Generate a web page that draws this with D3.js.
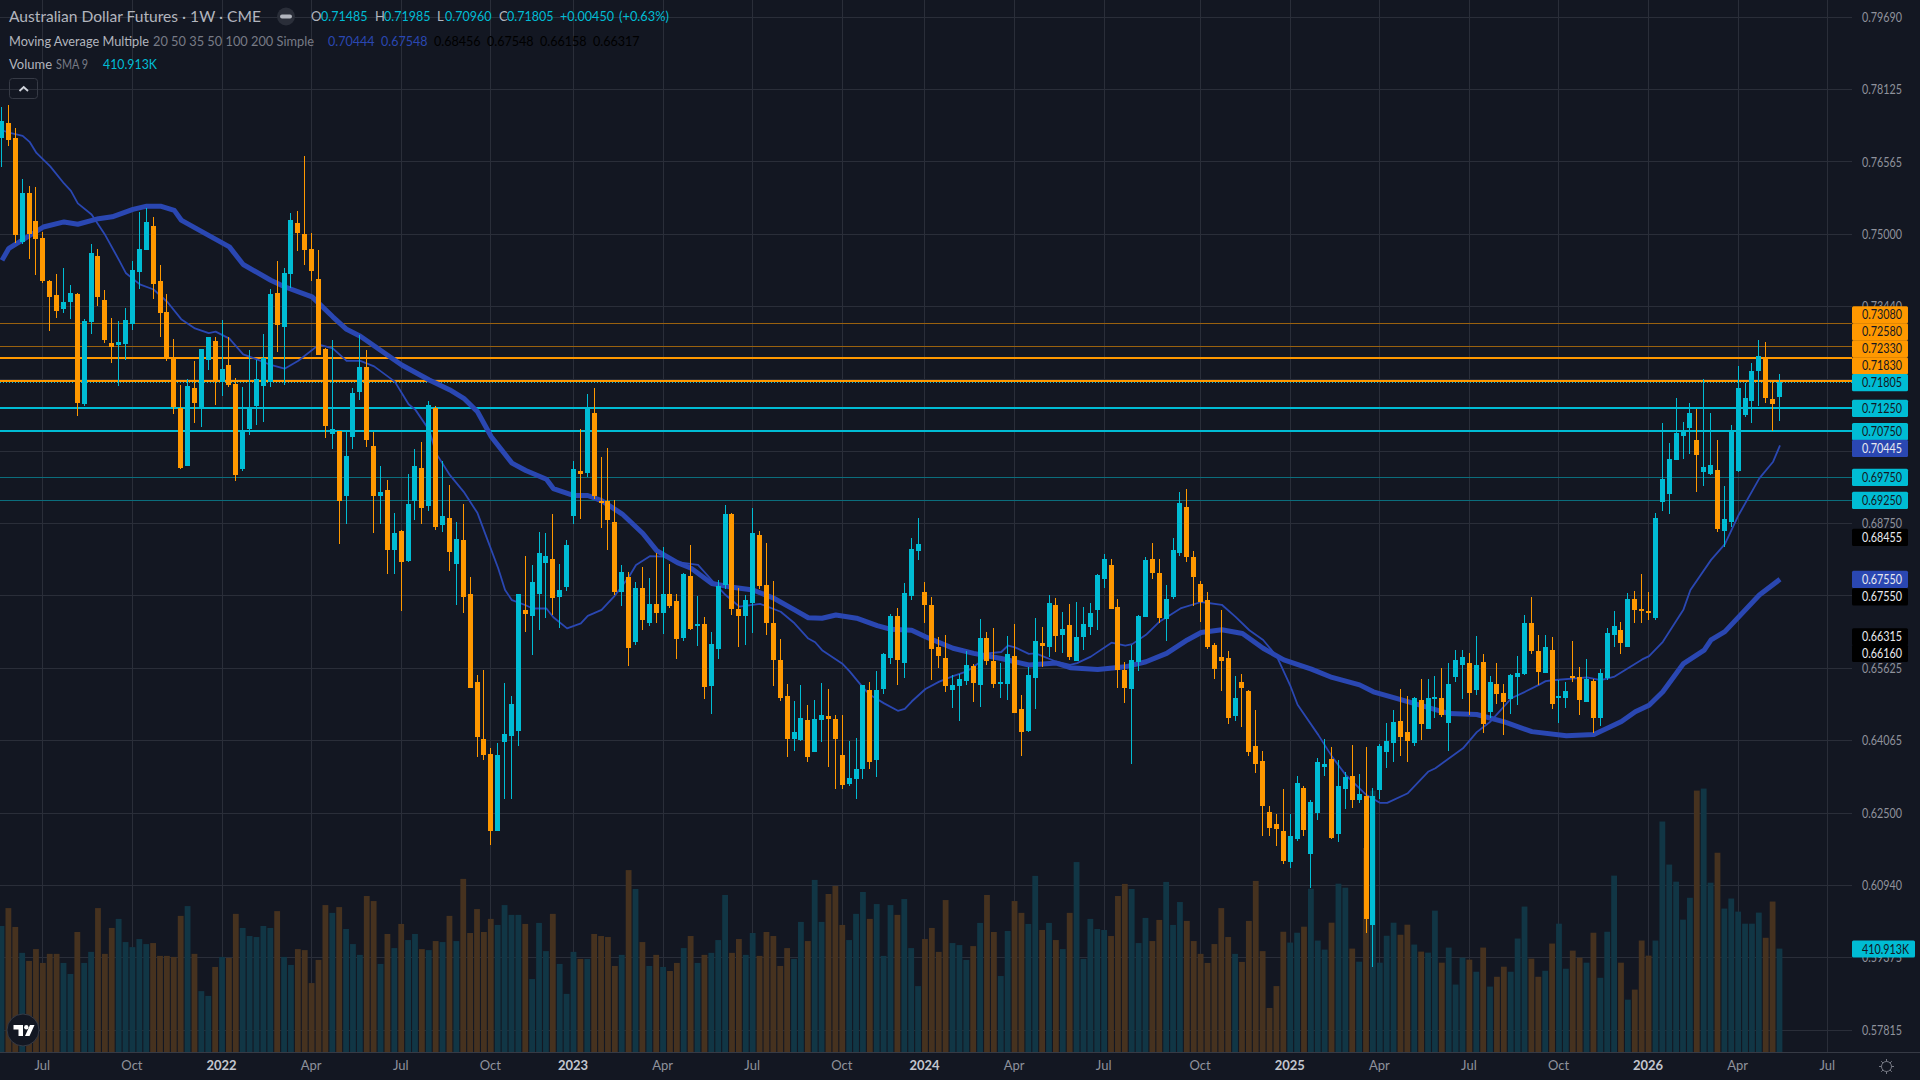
<!DOCTYPE html>
<html>
<head>
<meta charset="utf-8">
<title>Australian Dollar Futures</title>
<script src="https://cdn.jsdelivr.net/npm/d3@7"></script>
<style>
  html, body { margin: 0; padding: 0; background: #131722; overflow: hidden; }
  svg { display: block; }
  text { font-family: "Lato", "Noto Sans", sans-serif; }
</style>
</head>
<body>
<svg id="chart" width="1920" height="1080"></svg>
<script>
// Weekly OHLC in pips (1 pip = 0.0001), oldest week first.
const opens = [
  7709,7740,7708,7483,7589,7529,7492,7399,7369,7339,
  7354,7371,7133,7310,7453,7358,7265,7261,7263,7307,
  7418,7466,7518,7399,7332,7233,7125,6999,7168,7127,
  7228,7269,7181,7218,7177,6993,7079,7129,7172,7181,
  7373,7300,7414,7524,7501,7468,7403,7252,7069,7075,
  6935,7062,7159,7213,7043,6935,6948,6818,6859,6795,
  6924,6995,6913,7125,6872,6887,6788,6840,6723,6533,
  6410,6378,6211,6404,6417,6427,6689,6676,6723,6790,
  6799,6717,6738,6892,6989,6985,7114,6924,6924,6879,
  6728,6760,6620,6736,6661,6702,6682,6723,6708,6628,
  6762,6654,6658,6525,6604,6743,6896,6691,6676,6704,
  6851,6743,6661,6581,6503,6410,6408,6451,6382,6451,
  6460,6453,6375,6313,6324,6345,6516,6365,6518,6585,
  6676,6574,6719,6816,6728,6700,6609,6585,6516,6525,
  6535,6568,6527,6628,6579,6529,6529,6589,6475,6427,
  6542,6617,6609,6700,6635,6656,6579,6630,6652,6689,
  6756,6786,6695,6559,6518,6576,6674,6799,6769,6669,
  6717,6812,6911,6803,6745,6710,6613,6587,6585,6460,
  6533,6514,6395,6363,6252,6226,6211,6144,6194,6304,
  6162,6250,6350,6367,6205,6302,6330,6278,6287,6008,
  6300,6382,6401,6449,6425,6401,6494,6432,6496,6499,
  6445,6544,6570,6574,6516,6576,6468,6529,6509,6496,
  6544,6550,6661,6600,6553,6602,6499,6499,6546,6544,
  6490,6535,6455,6542,6635,6646,6609,6712,6691,6687,
  6671,6922,6939,7013,7065,7082,7056,6987,6982,6991,
  6859,6879,6989,7110,7140,7205,7233,7144,7148.5
];
const closes = [
  7745,7704,7499,7589,7501,7490,7399,7364,7334,7354,
  7373,7135,7313,7460,7364,7272,7256,7267,7315,7423,
  7468,7526,7393,7330,7233,7127,6995,7172,7135,7252,
  7278,7183,7209,7174,6980,7077,7125,7187,7233,7371,
  7304,7416,7531,7503,7466,7421,7239,7086,7079,6924,
  7021,7157,7213,7056,6935,6943,6818,6855,6792,6918,
  7000,6909,7131,6868,6892,6814,6842,6717,6520,6414,
  6376,6211,6376,6421,6486,6723,6680,6749,6812,6805,
  6715,6732,6829,6993,6982,7125,6935,6920,6883,6728,
  6771,6607,6736,6667,6702,6682,6723,6697,6626,6766,
  6648,6658,6522,6615,6740,6896,6691,6676,6710,6855,
  6741,6661,6581,6499,6410,6425,6455,6371,6453,6462,
  6453,6410,6311,6326,6345,6527,6360,6516,6594,6676,
  6581,6725,6820,6831,6700,6604,6589,6525,6527,6540,
  6570,6531,6628,6579,6529,6533,6594,6466,6425,6548,
  6622,6611,6704,6633,6648,6587,6630,6658,6682,6764,
  6799,6691,6559,6520,6581,6676,6797,6769,6671,6712,
  6818,6920,6803,6760,6706,6609,6561,6579,6455,6499,
  6520,6382,6356,6265,6218,6216,6147,6201,6315,6213,
  6274,6360,6356,6196,6309,6328,6278,6291,6021,6287,
  6395,6406,6447,6414,6406,6499,6442,6499,6501,6462,
  6529,6581,6587,6509,6570,6442,6533,6507,6490,6548,
  6553,6661,6600,6555,6609,6486,6503,6514,6544,6494,
  6540,6455,6553,6639,6654,6617,6712,6689,6687,6682,
  6887,6972,7015,7071,7075,7114,7024,6998,7002,6864,
  6885,7075,7168,7147,7205,7237,7147,7134,7180.5
];
const highs = [
  7776,7779,7729,7619,7604,7602,7505,7401,7414,7427,
  7390,7373,7317,7479,7468,7380,7319,7313,7341,7442,
  7548,7557,7537,7434,7371,7274,7174,7187,7226,7252,
  7278,7278,7315,7278,7190,7170,7250,7228,7285,7382,
  7442,7427,7546,7550,7669,7503,7466,7254,7272,7075,
  7073,7168,7282,7250,7073,6999,6969,6898,6862,6982,
  7036,7052,7140,7129,7011,6959,6879,6918,6760,6548,
  6559,6391,6401,6531,6503,6723,6805,6786,6857,6855,
  6896,6788,6840,7011,7080,7155,7168,7019,7039,6926,
  6786,6771,6749,6782,6758,6812,6825,6788,6723,6769,
  6829,6719,6674,6641,6753,6916,6898,6736,6721,6909,
  6859,6833,6751,6626,6529,6492,6527,6483,6494,6531,
  6518,6462,6462,6406,6412,6527,6533,6557,6596,6680,
  6693,6747,6844,6887,6749,6717,6630,6635,6548,6550,
  6600,6572,6669,6641,6650,6574,6633,6658,6505,6566,
  6671,6652,6721,6715,6684,6702,6706,6695,6704,6766,
  6810,6799,6712,6576,6613,6678,6803,6833,6799,6743,
  6844,6944,6950,6816,6751,6728,6617,6689,6600,6546,
  6550,6516,6473,6384,6265,6248,6302,6248,6330,6309,
  6278,6369,6410,6393,6365,6339,6397,6334,6393,6304,
  6399,6445,6473,6518,6503,6501,6540,6540,6546,6563,
  6574,6602,6602,6596,6633,6594,6546,6574,6529,6550,
  6589,6678,6717,6635,6635,6630,6538,6533,6622,6566,
  6583,6540,6561,6650,6687,6663,6725,6730,6766,6728,
  6898,7093,7049,7147,7095,7136,7123,7188,7114,7056,
  6957,7088,7216,7179,7222,7272,7268,7181,7198.5
];
const lows = [
  7646,7691,7482,7479,7447,7412,7395,7291,7319,7330,
  7317,7107,7129,7285,7345,7265,7222,7172,7228,7293,
  7382,7466,7360,7278,7226,7112,6993,6999,7092,7084,
  7207,7131,7151,7170,6967,6989,7066,7088,7094,7170,
  7246,7174,7384,7464,7434,7399,7239,7060,7036,6831,
  6874,7036,7142,7040,6855,6874,6766,6766,6686,6792,
  6883,6874,6903,6861,6857,6773,6699,6682,6520,6371,
  6365,6181,6211,6280,6280,6395,6641,6591,6645,6671,
  6678,6650,6730,6874,6885,6976,6928,6866,6818,6721,
  6697,6568,6613,6645,6654,6661,6637,6693,6583,6622,
  6645,6611,6496,6464,6583,6734,6678,6609,6613,6639,
  6734,6635,6525,6492,6371,6384,6406,6360,6382,6404,
  6350,6302,6302,6309,6280,6324,6345,6328,6507,6572,
  6527,6542,6710,6797,6661,6537,6563,6512,6477,6449,
  6527,6490,6479,6570,6520,6499,6494,6466,6373,6425,
  6475,6566,6587,6598,6596,6581,6579,6602,6635,6645,
  6736,6691,6520,6488,6356,6557,6674,6756,6661,6622,
  6712,6805,6792,6697,6663,6604,6540,6514,6442,6449,
  6436,6373,6337,6201,6201,6179,6140,6131,6190,6201,
  6088,6235,6330,6194,6188,6259,6261,6272,5991,5918,
  6280,6347,6360,6373,6360,6395,6408,6432,6455,6458,
  6384,6533,6496,6462,6505,6423,6455,6486,6419,6464,
  6483,6548,6594,6527,6553,6475,6445,6477,6533,6462,
  6490,6423,6438,6537,6609,6594,6609,6661,6661,6667,
  6667,6903,6896,7013,7015,7026,6944,6956,6980,6857,
  6825,6868,6987,7106,7093,7129,7136,7075,7096
];
// Weekly contract volume, in thousands.
const volumes = [
  501,572,497,394,362,409,354,390,390,354,
  310,477,354,398,572,390,493,529,437,417,
  449,429,433,382,382,378,541,580,390,242,
  223,338,378,374,549,493,461,457,501,493,
  560,378,346,409,405,274,366,584,553,576,
  489,429,386,620,600,350,469,413,509,445,
  469,409,405,441,437,541,441,688,473,568,
  477,529,505,584,545,545,509,290,513,401,
  549,350,231,398,370,370,469,461,457,342,
  386,723,648,437,342,386,338,322,354,413,
  461,354,386,394,445,624,394,449,386,473,
  382,477,461,342,413,370,517,441,684,517,
  628,660,505,445,549,636,529,588,382,584,
  545,608,413,262,449,493,398,604,433,425,
  366,421,513,624,477,302,481,600,553,509,
  700,485,513,445,409,553,755,370,529,489,
  485,461,620,668,648,433,533,441,525,676,
  505,596,521,441,390,354,429,572,457,390,
  358,521,680,401,175,262,478,435,474,498,
  649,443,407,514,669,653,411,359,811,1039,
  355,462,514,466,506,427,399,395,562,355,
  415,268,375,367,319,415,260,299,339,319,
  451,578,371,299,323,431,510,331,403,375,
  355,474,295,478,701,355,208,248,443,383,
  443,916,745,677,526,613,1039,1047,673,792,
  570,610,558,510,510,554,454,598,410.913
];

// Moving averages: week index and level in pips, sampled along each curve.
const fastMaWeeks = [
  0,1,3,4,5,7,9,10,11,13,15,17,18,20,22,24,26,28,30,31,33,35,37,39,41,43,46,48,50,52,54,57,59,60,
  62,63,65,67,69,70,72,73,74,76,77,79,80,82,84,85,87,89,91,92,94,96,98,101,103,105,107,110,113,115,
  117,118,119,122,123,125,126,128,130,131,132,134,136,138,140,142,143,145,146,147,149,150,153,155,156,
  158,161,163,164,166,168,169,171,174,177,179,181,183,185,187,188,191,193,195,198,200,201,204,207,208,
  212,214,216,219,221,223,224,225,230,232,234,238,239,241,244,245,248,250,252,255,257,258
];
const fastMaLevels = [
  7725,7720,7713,7700,7676,7647,7610,7594,7567,7543,7498,7444,7416,7392,7381,7354,7317,7297,7287,7290,7275,7241,7230,7218,7210,7227,7262,7254,7227,7227,7215,7182,7133,7121,
  7077,7027,6980,6944,6898,6858,6779,6732,6710,6699,6692,6692,6673,6649,6660,6676,6689,6721,6761,6786,6805,6804,6792,6786,6753,6721,6696,6702,6685,6660,
  6627,6619,6602,6572,6556,6520,6505,6487,6471,6475,6491,6518,6534,6546,6556,6577,6595,6598,6612,6608,6594,6595,6577,6570,6574,
  6588,6618,6612,6615,6635,6664,6673,6692,6706,6700,6674,6645,6624,6588,6523,6484,6419,6372,6332,6289,6272,6272,6293,6340,6347,
  6390,6425,6448,6498,6512,6527,6535,6537,6543,6537,6545,6582,6589,6620,6690,6732,6797,6831,6894,6973,7009,7044.4
];
const slowMaWeeks = [
  0,1,3,6,9,11,14,16,19,21,23,25,26,29,33,35,39,41,45,48,50,52,58,
  62,65,67,69,71,74,76,79,80,83,85,87,90,93,95,98,100,103,106,109,112,115,117,119,
  121,124,127,129,132,134,138,141,145,149,153,155,159,163,166,169,172,174,177,
  180,183,186,190,193,197,199,204,210,214,218,222,227,231,235,237,239,241,244,247,248,250,255,258
];
const slowMaLevels = [
  7444,7470,7488,7516,7527,7522,7534,7538,7554,7561,7561,7552,7531,7506,7473,7435,7401,7387,7365,7322,7295,7280,7218,
  7185.5,7164,7146,7117,7063,7006,6990,6971,6951,6936,6936,6925,6896,6854,6817,6791,6779,6746,6738,6732,6714,6689,6672,6671,
  6678,6671,6655,6647,6645,6631,6606,6595,6584,6570,6574,6564,6560,6566,6577,6595,6624,6640,6646,
  6638,6606,6581,6561,6543,6527,6512,6491,6465,6463,6447,6426,6417,6420,6448,6469,6483,6512,6573,6602,6624,6642,6721,6755
];

// Horizontal level alerts: thin and heavy orange/teal rules.
const levelPrices = [0.7308, 0.7258, 0.7233, 0.7183, 0.7125, 0.7075, 0.6975, 0.6925];
const levelKinds  = ["ot", "ot", "oh", "oh", "th", "th", "tt", "tt"];
const lastClose = 0.71805;

const priceTicks = [0.7969,0.78125,0.76565,0.75,0.7344,0.71875,0.70315,0.6875,0.6719,0.65625,0.64065,0.625,0.6094,0.59375,0.57815];
const dateTickWeeks = [6,19,32,45,58,71,83,96,109,122,134,147,160,174,187,200,213,226,239,252,265];
const dateTickNames = ["Jul","Oct","2022","Apr","Jul","Oct","2023","Apr","Jul","Oct","2024","Apr","Jul","Oct","2025","Apr","Jul","Oct","2026","Apr","Jul"];

// Price-scale tags, top to bottom: value and tag style.
const tagValues = ["0.73080","0.72580","0.72330","0.71830","0.71805","0.71250","0.70750","0.70445","0.69750","0.69250","0.68455","0.67550","0.67550","0.66315","0.66160"];
const tagKinds  = ["o","o","o","o","t","t","t","b","t","t","k","b","k","k","k"];
const tagCentres = [314.7,331.7,348.7,365.7,382.5,408.3,431.5,448.3,477.3,500.3,537.3,579.3,596.7,636.7,653.3];

const ORANGE = "#ff9800", TEAL = "#00bcd4", BLUE = "#2a47b2", BG = "#131722", GRID = "#2a2e39";
const W = 1920, PANE_R = 1852, PANE_B = 1052;

const svg = d3.select("#chart");
svg.append("rect").attr("width", W).attr("height", 1080).attr("fill", BG);

const xScale = d3.scaleLinear().domain([0, 258]).range([1.5, 1779.5]);
const yScale = d3.scaleLinear().domain([0.7308, 0.57815]).range([323.3, 1030]);
const volScale = d3.scaleLinear().domain([0, 1000]).range([PANE_B, PANE_B - 251.6]);
const col = i => Math.floor(xScale(i));
const price = pips => pips / 10000;

const bars = d3.range(opens.length).map(i => ({
  i, o: price(opens[i]), h: price(highs[i]), l: price(lows[i]), c: price(closes[i]), v: volumes[i],
  up: closes[i] >= opens[i]
}));

// Grid
const grid = svg.append("g").attr("shape-rendering", "crispEdges").attr("stroke", GRID);
grid.selectAll("line.h").data(priceTicks).join("line").attr("class", "h")
  .attr("x1", 0).attr("x2", PANE_R)
  .attr("y1", d => Math.floor(yScale(d)) + 0.5).attr("y2", d => Math.floor(yScale(d)) + 0.5);
grid.selectAll("line.v").data(dateTickWeeks).join("line").attr("class", "v")
  .attr("x1", d => Math.floor(xScale(d)) + 0.5).attr("x2", d => Math.floor(xScale(d)) + 0.5)
  .attr("y1", 0).attr("y2", PANE_B);
svg.append("line").attr("x1", 0).attr("x2", W).attr("y1", PANE_B + 0.5).attr("y2", PANE_B + 0.5)
  .attr("stroke", "#363a45").attr("shape-rendering", "crispEdges");

// Volume pane: bars stay slightly narrower than the weekly step so a dark gap separates them
svg.append("g")
  .selectAll("rect").data(bars).join("rect")
  .attr("x", d => xScale(d.i) - 2.9).attr("width", 5.8)
  .attr("y", d => volScale(d.v)).attr("height", d => PANE_B - volScale(d.v))
  .attr("fill", d => d.up ? "#113645" : "#46321f");

// Level rules
const levelStyle = {
  ot: { stroke: "#99610f", w: 1 }, oh: { stroke: ORANGE, w: 2 },
  th: { stroke: TEAL, w: 2 },      tt: { stroke: "#0b6d7c", w: 1 }
};
svg.append("g").attr("shape-rendering", "crispEdges")
  .selectAll("line").data(levelPrices).join("line")
  .attr("x1", 0).attr("x2", PANE_R)
  .attr("y1", d => yScale(d)).attr("y2", d => yScale(d))
  .attr("stroke", (d, i) => levelStyle[levelKinds[i]].stroke)
  .attr("stroke-width", (d, i) => levelStyle[levelKinds[i]].w);
svg.append("line").attr("x1", 0).attr("x2", PANE_R)
  .attr("y1", yScale(lastClose)).attr("y2", yScale(lastClose))
  .attr("stroke", TEAL).attr("stroke-dasharray", "1 2").attr("shape-rendering", "crispEdges");

// Moving averages
const maLine = d3.line().x(d => xScale(d[0]) + 0.5).y(d => yScale(price(d[1]))).curve(d3.curveLinear);
svg.append("path").attr("d", maLine(d3.zip(slowMaWeeks, slowMaLevels)))
  .attr("fill", "none").attr("stroke", BLUE).attr("stroke-width", 5).attr("stroke-linejoin", "round");
svg.append("path").attr("d", maLine(d3.zip(fastMaWeeks, fastMaLevels)))
  .attr("fill", "none").attr("stroke", BLUE).attr("stroke-width", 1.8).attr("stroke-linejoin", "round");

// Candles
const candles = svg.append("g").attr("shape-rendering", "crispEdges");
candles.selectAll("rect.wick").data(bars).join("rect").attr("class", "wick")
  .attr("x", d => col(d.i)).attr("width", 1)
  .attr("y", d => yScale(d.h)).attr("height", d => yScale(d.l) - yScale(d.h))
  .attr("fill", d => d.up ? TEAL : ORANGE);
candles.selectAll("rect.body").data(bars).join("rect").attr("class", "body")
  .attr("x", d => col(d.i) - 2).attr("width", 5)
  .attr("y", d => yScale(Math.max(d.o, d.c)))
  .attr("height", d => Math.max(2, Math.abs(yScale(d.o) - yScale(d.c))))
  .attr("fill", d => d.up ? TEAL : ORANGE);

// Legend text
function label(x, y, str, fill, size, width, weight) {
  const t = svg.append("text").attr("x", x).attr("y", y).attr("dy", "0.35em")
    .attr("fill", fill).attr("font-size", size).attr("font-weight", weight || 400).text(str);
  if (width) t.attr("textLength", width).attr("lengthAdjust", "spacingAndGlyphs");
  return t;
}
const INK = "#b2b5be", DIM = "#787b86";
label(9, 16.5, "Australian Dollar Futures · 1W · CME", INK, 15, 252);
svg.append("circle").attr("cx", 286).attr("cy", 16.5).attr("r", 9).attr("fill", "#2a2e39");
svg.append("rect").attr("x", 280).attr("y", 14.5).attr("width", 12).attr("height", 4).attr("rx", 2).attr("fill", INK);
[["O", 311, "0.71485", 321], ["H", 375, "0.71985", 384], ["L", 437, "0.70960", 445], ["C", 499, "0.71805", 507]]
  .forEach(([k, kx, v, vx]) => { label(kx, 16.5, k, INK, 13); label(vx, 16.5, v, TEAL, 13, 46.5); });
label(560, 16.5, "+0.00450", TEAL, 13, 54);
label(619, 16.5, "(+0.63%)", TEAL, 13, 50);

label(9, 41, "Moving Average Multiple", INK, 13.5, 140);
label(153, 41, "20 50 35 50 100 200 Simple", DIM, 13.5, 161);
[["0.70444", BLUE], ["0.67548", BLUE], ["0.68456", "#000"], ["0.67548", "#000"], ["0.66158", "#000"], ["0.66317", "#000"]]
  .forEach(([v, c], i) => label(328 + 53 * i, 41, v, c, 13, 46.5));

label(9, 64.5, "Volume", INK, 13.5, 43);
label(56, 64.5, "SMA 9", DIM, 13.5, 32);
label(103, 64.5, "410.913K", TEAL, 13, 54);

// Collapse button
svg.append("rect").attr("x", 9.5).attr("y", 78.5).attr("width", 28).attr("height", 20).attr("rx", 3)
  .attr("fill", "none").attr("stroke", "#363a45");
svg.append("path").attr("d", "M19.5 91 L23.7 87 L28 91").attr("fill", "none").attr("stroke", "#d1d4dc").attr("stroke-width", 1.8);

// Price axis
const priceAxis = d3.axisRight(yScale).tickValues(priceTicks).tickSize(0).tickPadding(0).tickFormat(d3.format(".5f"));
const priceG = svg.append("g").attr("transform", "translate(1862,0)").call(priceAxis);
priceG.select(".domain").remove();
priceG.selectAll("text").attr("fill", "#8f929c").attr("font-size", 13).attr("font-family", "Lato")
  .attr("textLength", 40).attr("lengthAdjust", "spacingAndGlyphs");

// Time axis
const timeAxis = d3.axisBottom(xScale).tickValues(dateTickWeeks).tickSize(0).tickPadding(0)
  .tickFormat(d => dateTickNames[dateTickWeeks.indexOf(d)]);
const timeG = svg.append("g").attr("transform", `translate(-1,${PANE_B + 9})`).call(timeAxis);
timeG.select(".domain").remove();
timeG.selectAll("text").attr("font-size", 13).attr("font-family", "Lato")
  .attr("fill", d => /^\d/.test(dateTickNames[dateTickWeeks.indexOf(d)]) ? "#c3c6ce" : "#8f929c")
  .attr("font-weight", d => /^\d/.test(dateTickNames[dateTickWeeks.indexOf(d)]) ? 700 : 400);

// Price tags
const tagFill = { o: ORANGE, t: TEAL, b: "#2a47b2", k: "#000000" };
const tagInk  = { o: "#131722", t: "#131722", b: "#e8eaf0", k: "#e8eaf0" };
const tags = svg.append("g");
tags.selectAll("rect").data(tagValues).join("rect")
  .attr("x", 1852).attr("width", 56).attr("rx", 1.5)
  .attr("y", (d, i) => tagCentres[i] - 8.5).attr("height", 17.2)
  .attr("fill", (d, i) => tagFill[tagKinds[i]]);
tags.selectAll("text").data(tagValues).join("text")
  .attr("x", 1862).attr("y", (d, i) => tagCentres[i]).attr("dy", "0.35em")
  .attr("font-size", 13).attr("textLength", 40).attr("lengthAdjust", "spacingAndGlyphs")
  .attr("fill", (d, i) => tagInk[tagKinds[i]]).text(d => d);

// Volume tag
svg.append("rect").attr("x", 1852).attr("y", volScale(volumes[258]) - 8).attr("width", 63).attr("height", 17).attr("rx", 1.5).attr("fill", TEAL);
label(1862, volScale(volumes[258]) + 0.5, "410.913K", "#131722", 13, 47);

// Brand mark
const logo = svg.append("g");
logo.append("circle").attr("cx", 23).attr("cy", 1030).attr("r", 16).attr("fill", BG).attr("stroke", "#363a45");
logo.append("path").attr("fill", "#fff")
  .attr("d", "M13.5 1025 H23 V1036 H18.5 V1029.5 H13.5 Z M30 1025 H34.5 L29.5 1036 H25 Z");
logo.append("circle").attr("cx", 26.3).attr("cy", 1027.2).attr("r", 2.2).attr("fill", "#fff");

// Settings gear
const gear = svg.append("g").attr("transform", "translate(1886.5,1066.5)").attr("fill", "none").attr("stroke", "#787b86");
gear.append("circle").attr("r", 5);
d3.range(8).forEach(k => {
  const a = k * Math.PI / 4;
  gear.append("line").attr("x1", 5 * Math.cos(a)).attr("y1", 5 * Math.sin(a)).attr("x2", 7.5 * Math.cos(a)).attr("y2", 7.5 * Math.sin(a));
});
</script>
</body>
</html>
